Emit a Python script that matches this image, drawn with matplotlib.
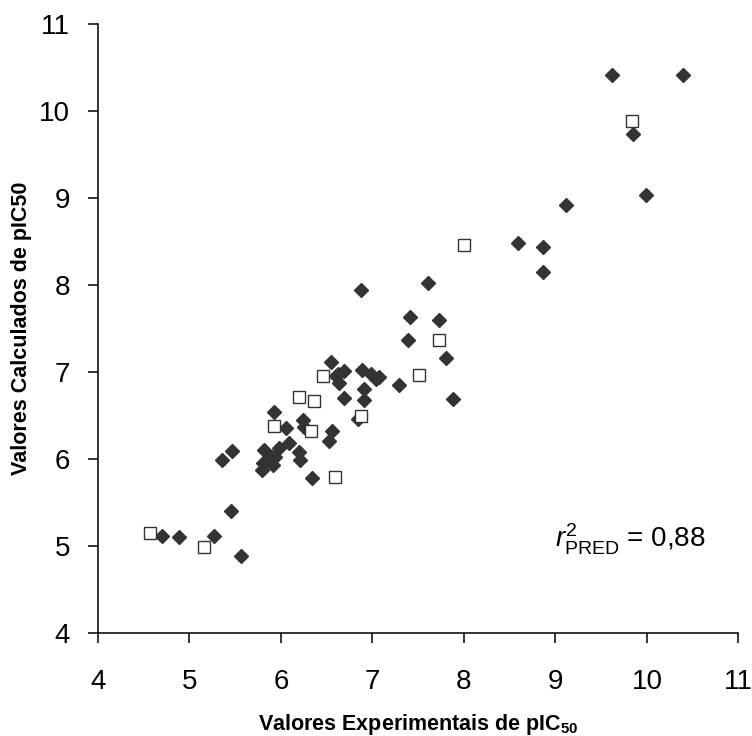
import matplotlib.pyplot as plt

plt.rcParams["font.family"] = ["Liberation Sans", "DejaVu Sans"]
plt.rcParams["mathtext.fontset"] = "custom"
plt.rcParams["mathtext.rm"] = "Liberation Sans"
plt.rcParams["mathtext.it"] = "Liberation Sans:italic"
plt.rcParams["mathtext.bf"] = "Liberation Sans:bold"

# Training set (filled diamonds)
train_exp = [4.70, 4.89, 5.27, 5.46, 5.57, 5.36, 5.47, 5.82, 5.80, 5.79, 5.87,
             5.90, 5.94, 5.92, 5.98, 5.93, 6.06, 6.09, 6.24, 6.25, 6.20, 6.21,
             6.34, 6.53, 6.56, 6.55, 6.60, 6.62, 6.69, 6.64, 6.69, 6.84, 6.88,
             6.89, 6.99, 7.04, 7.07, 6.91, 6.91, 7.29, 7.39, 7.41, 7.61, 7.73,
             7.81, 7.88, 8.59, 8.86, 8.86, 9.12, 9.62, 10.39, 9.85, 9.99]
train_calc = [5.12, 5.10, 5.12, 5.40, 4.88, 5.99, 6.09, 6.10, 5.96, 5.87, 5.98,
              6.02, 6.02, 5.93, 6.13, 6.54, 6.36, 6.19, 6.45, 6.37, 6.08, 5.99,
              5.78, 6.21, 6.32, 7.12, 6.96, 6.98, 7.01, 6.88, 6.70, 6.46, 7.94,
              7.02, 6.98, 6.92, 6.94, 6.81, 6.68, 6.85, 7.37, 7.63, 8.02, 7.60,
              7.16, 6.69, 8.49, 8.44, 8.15, 8.92, 10.42, 10.42, 9.74, 9.04]

# Test set (open squares)
test_exp = [4.57, 5.16, 5.93, 6.20, 6.36, 6.33, 6.46, 6.59, 6.88, 7.51, 7.73,
            8.00, 9.84]
test_calc = [5.15, 4.99, 6.38, 6.71, 6.67, 6.32, 6.95, 5.79, 6.50, 6.97, 7.37,
             8.46, 9.89]

fig, ax = plt.subplots(figsize=(7.52, 7.36), dpi=100)
fig.subplots_adjust(left=0.13, right=0.982, top=0.967, bottom=0.14)

ax.plot(train_exp, train_calc, linestyle="none", marker="D", markersize=6.8,
        markerfacecolor="#333333", markeredgecolor="#333333")
ax.plot(test_exp, test_calc, linestyle="none", marker="s", markersize=8,
        markerfacecolor="white", markeredgecolor="#333333", markeredgewidth=1.0)

ax.set_xlim(4, 11)
ax.set_ylim(4, 11)
ax.set_xticks(range(4, 12))
ax.set_yticks(range(4, 12))

for side in ["top", "right"]:
    ax.spines[side].set_visible(False)
for side in ["left", "bottom"]:
    ax.spines[side].set_linewidth(1.1)

ax.tick_params(direction="out", length=7, width=1.1, labelsize=20)
ax.tick_params(axis="x", pad=19)
ax.tick_params(axis="y", pad=13)

ax.set_xlabel(r"Valores Experimentais de pIC$_{\mathbf{50}}$",
              fontsize=15.5, fontweight="bold", va="center")
ax.set_ylabel("Valores Calculados de pIC50", fontsize=15.5, fontweight="bold",
              va="center")
ax.xaxis.set_label_coords(0.5, -0.15)
ax.yaxis.set_label_coords(-0.119, 0.5)

ax.text(9.0, 4.98, r"$\mathit{r}^{\mathit{2}}_{\mathrm{PRED}}$ = 0,88",
        fontsize=20, ha="left", va="baseline")

fig.savefig("out.png", dpi=100)
